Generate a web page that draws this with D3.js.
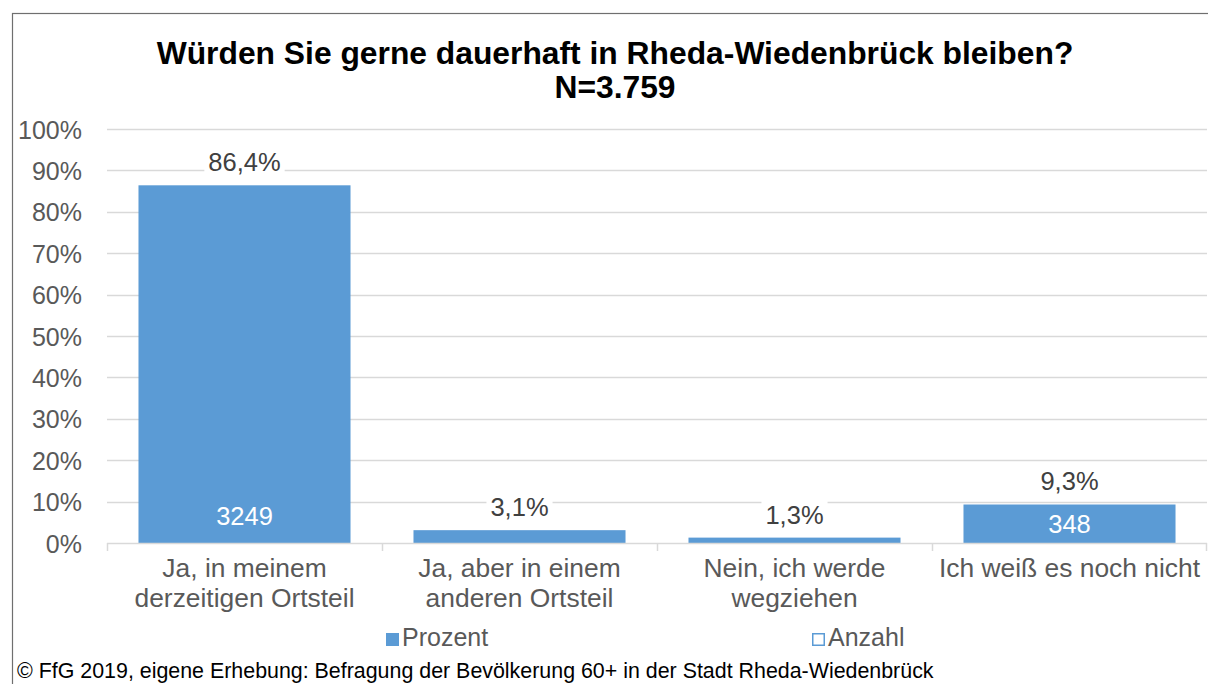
<!DOCTYPE html>
<html>
<head>
<meta charset="utf-8">
<script src="https://cdn.jsdelivr.net/npm/d3@7"></script>
<style>
  html, body { margin: 0; padding: 0; background: #fff; }
  svg { display: block; font-family: "Liberation Sans", Arial, sans-serif; }
</style>
</head>
<body>
<svg id="chart"></svg>
<script>
// chart values
const categories = [
  ["Ja, in meinem", "derzeitigen Ortsteil"],
  ["Ja, aber in einem", "anderen Ortsteil"],
  ["Nein, ich werde", "wegziehen"],
  ["Ich weiß es noch nicht"]
];
const percentValues = [0.864, 0.031, 0.013, 0.093];
const percentLabels = ["86,4%", "3,1%", "1,3%", "9,3%"];
const countLabels = ["3249", null, null, "348"];
const yTicks = [0, 0.1, 0.2, 0.3, 0.4, 0.5, 0.6, 0.7, 0.8, 0.9, 1.0];
const legendItems = ["Prozent", "Anzahl"];
const titleLines = ["Würden Sie gerne dauerhaft in Rheda-Wiedenbrück bleiben?", "N=3.759"];
const footerText = "© FfG 2019, eigene Erhebung: Befragung der Bevölkerung 60+ in der Stadt Rheda-Wiedenbrück";

const WIDTH = 1208, HEIGHT = 684;
const BAR_COLOR = "#5B9BD5";
const GRID_COLOR = "#d9d9d9";
const AXIS_TEXT = "#595959";
const LABEL_TEXT = "#404040";

const svg = d3.select("#chart").attr("width", WIDTH).attr("height", HEIGHT);

svg.append("rect").attr("width", WIDTH).attr("height", HEIGHT).attr("fill", "#fff");

// outer chart frame (runs off the right and bottom of the picture)
svg.append("rect")
  .attr("x", 12.5).attr("y", 13.5)
  .attr("width", 1300).attr("height", 700)
  .attr("fill", "none")
  .attr("stroke", "#6f6f6f")
  .attr("stroke-width", 1.2);

const plot = { left: 107, right: 1207, top: 129, bottom: 543 };

// one row per category, so filtering keeps the right label
const rows = categories.map((c, i) => ({
  i: i,
  lines: c,
  value: percentValues[i],
  pct: percentLabels[i],
  count: countLabels[i]
}));

const x = d3.scaleBand()
  .domain(rows.map(r => r.i))
  .range([plot.left, plot.right])
  .paddingInner(0.229)
  .paddingOuter(0.1145);

const y = d3.scaleLinear().domain([0, 1]).range([plot.bottom, plot.top]);

// title
svg.append("g").selectAll("text")
  .data(titleLines)
  .enter()
  .append("text")
  .attr("x", 615)
  .attr("y", (d, i) => 64 + i * 34)
  .attr("text-anchor", "middle")
  .attr("font-weight", "bold")
  .attr("font-size", 31.8)
  .attr("fill", "#000")
  .text(d => d);

// gridlines
svg.append("g").selectAll("line")
  .data(yTicks.filter(t => t > 0))
  .enter()
  .append("line")
  .attr("x1", plot.left).attr("x2", plot.right)
  .attr("y1", d => Math.round(y(d)) + 0.5)
  .attr("y2", d => Math.round(y(d)) + 0.5)
  .attr("stroke", GRID_COLOR)
  .attr("stroke-width", 1.5);

// y axis labels
const yAxis = d3.axisLeft(y)
  .tickValues(yTicks)
  .tickFormat(d => Math.round(d * 100) + "%")
  .tickSize(0)
  .tickPadding(0);

const yAxisG = svg.append("g")
  .attr("transform", "translate(82,0)")
  .call(yAxis);
yAxisG.select(".domain").remove();
yAxisG.selectAll("text")
  .attr("font-size", 25)
  .attr("font-family", "Liberation Sans, Arial, sans-serif")
  .attr("fill", AXIS_TEXT)
  .attr("dy", "0.36em");

// bars
svg.append("g").selectAll("rect")
  .data(rows)
  .enter()
  .append("rect")
  .attr("x", d => x(d.i))
  .attr("y", d => y(d.value))
  .attr("width", x.bandwidth())
  .attr("height", d => y(0) - y(d.value))
  .attr("fill", BAR_COLOR);

// x axis line and category separators
const xAxisG = svg.append("g");
xAxisG.append("line")
  .attr("x1", plot.left).attr("x2", plot.right)
  .attr("y1", plot.bottom + 0.5).attr("y2", plot.bottom + 0.5)
  .attr("stroke", GRID_COLOR)
  .attr("stroke-width", 1.5);
const boundaries = rows.map(r => x(r.i) - x.step() * x.paddingOuter()).concat([plot.right - 1]);
xAxisG.selectAll("line.sep")
  .data(boundaries)
  .enter()
  .append("line")
  .attr("class", "sep")
  .attr("x1", d => Math.round(d) + 0.5).attr("x2", d => Math.round(d) + 0.5)
  .attr("y1", plot.bottom).attr("y2", plot.bottom + 8)
  .attr("stroke", GRID_COLOR)
  .attr("stroke-width", 1.5);

// category labels
const catText = svg.append("g").selectAll("text")
  .data(rows)
  .enter()
  .append("text")
  .attr("text-anchor", "middle")
  .attr("font-size", 26.4)
  .attr("fill", AXIS_TEXT);
catText.selectAll("tspan")
  .data(d => d.lines.map(line => ({ line, i: d.i })))
  .enter()
  .append("tspan")
  .attr("x", d => x(d.i) + x.bandwidth() / 2)
  .attr("y", (d, j) => 577 + j * 30)
  .text(d => d.line);

// percent labels with white backing
const pctG = svg.append("g").selectAll("g")
  .data(rows)
  .enter()
  .append("g");
pctG.append("rect").attr("fill", "#fff");
pctG.append("text")
  .attr("x", d => x(d.i) + x.bandwidth() / 2)
  .attr("y", d => y(d.value) - 14)
  .attr("text-anchor", "middle")
  .attr("font-size", 25.5)
  .attr("fill", LABEL_TEXT)
  .text(d => d.pct);
pctG.each(function() {
  const g = d3.select(this);
  const bb = g.select("text").node().getBBox();
  g.select("rect")
    .attr("x", bb.x - 4).attr("y", bb.y - 1)
    .attr("width", bb.width + 8).attr("height", bb.height + 2);
});

// count labels inside bars
svg.append("g").selectAll("text")
  .data(rows.filter(r => r.count !== null))
  .enter()
  .append("text")
  .attr("x", d => x(d.i) + x.bandwidth() / 2)
  .attr("y", d => Math.max(y(0) - 18, (y(d.value) + y(0)) / 2 + 9))
  .attr("text-anchor", "middle")
  .attr("font-size", 25.5)
  .attr("fill", "#fff")
  .text(d => d.count);

// legend
const legendX = [386, 812];
const leg = svg.append("g").selectAll("g")
  .data(legendItems)
  .enter()
  .append("g")
  .attr("transform", (d, i) => `translate(${legendX[i]},0)`);
leg.append("rect")
  .attr("x", (d, i) => i === 0 ? 0 : 0.75)
  .attr("y", (d, i) => i === 0 ? 633 : 633.75)
  .attr("width", (d, i) => i === 0 ? 13 : 11.5)
  .attr("height", (d, i) => i === 0 ? 13 : 11.5)
  .attr("fill", (d, i) => i === 0 ? BAR_COLOR : "#fff")
  .attr("stroke", (d, i) => i === 0 ? "none" : BAR_COLOR)
  .attr("stroke-width", 1.5);
leg.append("text")
  .attr("x", 16)
  .attr("y", 646)
  .attr("font-size", 25)
  .attr("fill", AXIS_TEXT)
  .text(d => d);

// footer
svg.append("text")
  .attr("x", 17)
  .attr("y", 678)
  .attr("font-size", 21.4)
  .attr("fill", "#000")
  .text(footerText);
</script>
</body>
</html>
